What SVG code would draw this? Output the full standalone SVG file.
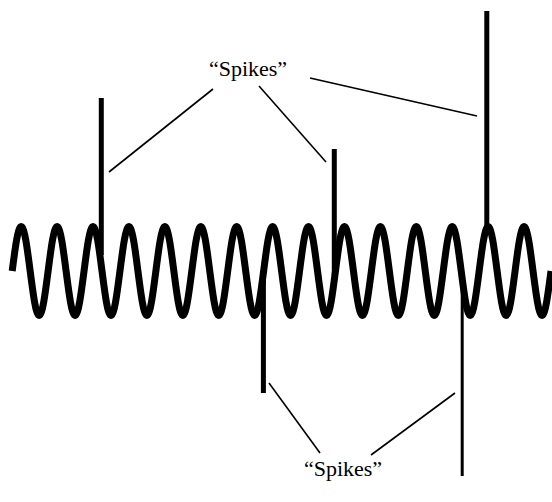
<svg xmlns="http://www.w3.org/2000/svg" width="552" height="502" viewBox="0 0 552 502">
<style>
.wave{fill:none;stroke:#000;stroke-width:7;stroke-linecap:butt;stroke-linejoin:round}
.spike{stroke:#000;stroke-width:5;stroke-linecap:butt}
.thin{stroke-width:3}
.lead{stroke:#000;stroke-width:1.6;stroke-linecap:butt}
.lbl{font-family:"Liberation Serif","Times New Roman",serif;font-size:22px;fill:#000;text-anchor:middle}
</style>
<rect width="552" height="502" fill="#fff"/>
<g id="wave">
<path class="wave" d="M12.2,271 c2.93,-22.8 5.73,-44.5 8.98,-44.5
s6.05,21.7 8.98,44.5 s5.73,44.5 8.98,44.5 s6.05,-21.7 8.98,-44.5 s5.73,-44.5 8.98,-44.5
s6.05,21.7 8.98,44.5 s5.73,44.5 8.98,44.5 s6.05,-21.7 8.98,-44.5 s5.73,-44.5 8.98,-44.5
s6.05,21.7 8.98,44.5 s5.73,44.5 8.98,44.5 s6.05,-21.7 8.98,-44.5 s5.73,-44.5 8.98,-44.5
s6.05,21.7 8.98,44.5 s5.73,44.5 8.98,44.5 s6.05,-21.7 8.98,-44.5 s5.73,-44.5 8.98,-44.5
s6.05,21.7 8.98,44.5 s5.73,44.5 8.98,44.5 s6.05,-21.7 8.98,-44.5 s5.73,-44.5 8.98,-44.5
s6.05,21.7 8.98,44.5 s5.73,44.5 8.98,44.5 s6.05,-21.7 8.98,-44.5 s5.73,-44.5 8.98,-44.5
s6.05,21.7 8.98,44.5 s5.73,44.5 8.98,44.5 s6.05,-21.7 8.98,-44.5 s5.73,-44.5 8.98,-44.5
s6.05,21.7 8.98,44.5 s5.73,44.5 8.98,44.5 s6.05,-21.7 8.98,-44.5 s5.73,-44.5 8.98,-44.5
s6.05,21.7 8.98,44.5 s5.73,44.5 8.98,44.5 s6.05,-21.7 8.98,-44.5 s5.73,-44.5 8.98,-44.5
s6.05,21.7 8.98,44.5 s5.73,44.5 8.98,44.5 s6.05,-21.7 8.98,-44.5 s5.73,-44.5 8.98,-44.5
s6.05,21.7 8.98,44.5 s5.73,44.5 8.98,44.5 s6.05,-21.7 8.98,-44.5 s5.73,-44.5 8.98,-44.5
s6.05,21.7 8.98,44.5 s5.73,44.5 8.98,44.5 s6.05,-21.7 8.98,-44.5 s5.73,-44.5 8.98,-44.5
s6.05,21.7 8.98,44.5 s5.73,44.5 8.98,44.5 s6.05,-21.7 8.98,-44.5 s5.73,-44.5 8.98,-44.5
s6.05,21.7 8.98,44.5 s5.73,44.5 8.98,44.5 s6.05,-21.7 8.98,-44.5 s5.73,-44.5 8.98,-44.5
s6.05,21.7 8.98,44.5 s5.73,44.5 8.98,44.5 s6.05,-21.7 8.98,-44.5"/>
</g>
<g id="spike-up-1"><line class="spike" x1="101.3" y1="98" x2="101.3" y2="255"/></g>
<g id="spike-up-2"><line class="spike" x1="334.3" y1="149" x2="334.3" y2="275"/></g>
<g id="spike-up-3"><line class="spike" x1="486.8" y1="11" x2="486.8" y2="227"/></g>
<g id="spike-down-1"><line class="spike" x1="263.4" y1="280" x2="263.4" y2="393"/></g>
<g id="spike-down-2"><line class="spike thin" x1="462.2" y1="275" x2="462.2" y2="476"/></g>
<g id="label-top"><text class="lbl" x="248" y="76">“Spikes”</text></g>
<g id="label-bottom"><text class="lbl" x="343" y="476">“Spikes”</text></g>
<g id="connectors">
<line class="lead" x1="213" y1="89" x2="109" y2="172"/>
<line class="lead" x1="259" y1="86" x2="326" y2="162"/>
<line class="lead" x1="310" y1="78" x2="477" y2="116"/>
<line class="lead" x1="269" y1="383" x2="320" y2="453"/>
<line class="lead" x1="455" y1="393" x2="371" y2="455"/>
</g>
</svg>
